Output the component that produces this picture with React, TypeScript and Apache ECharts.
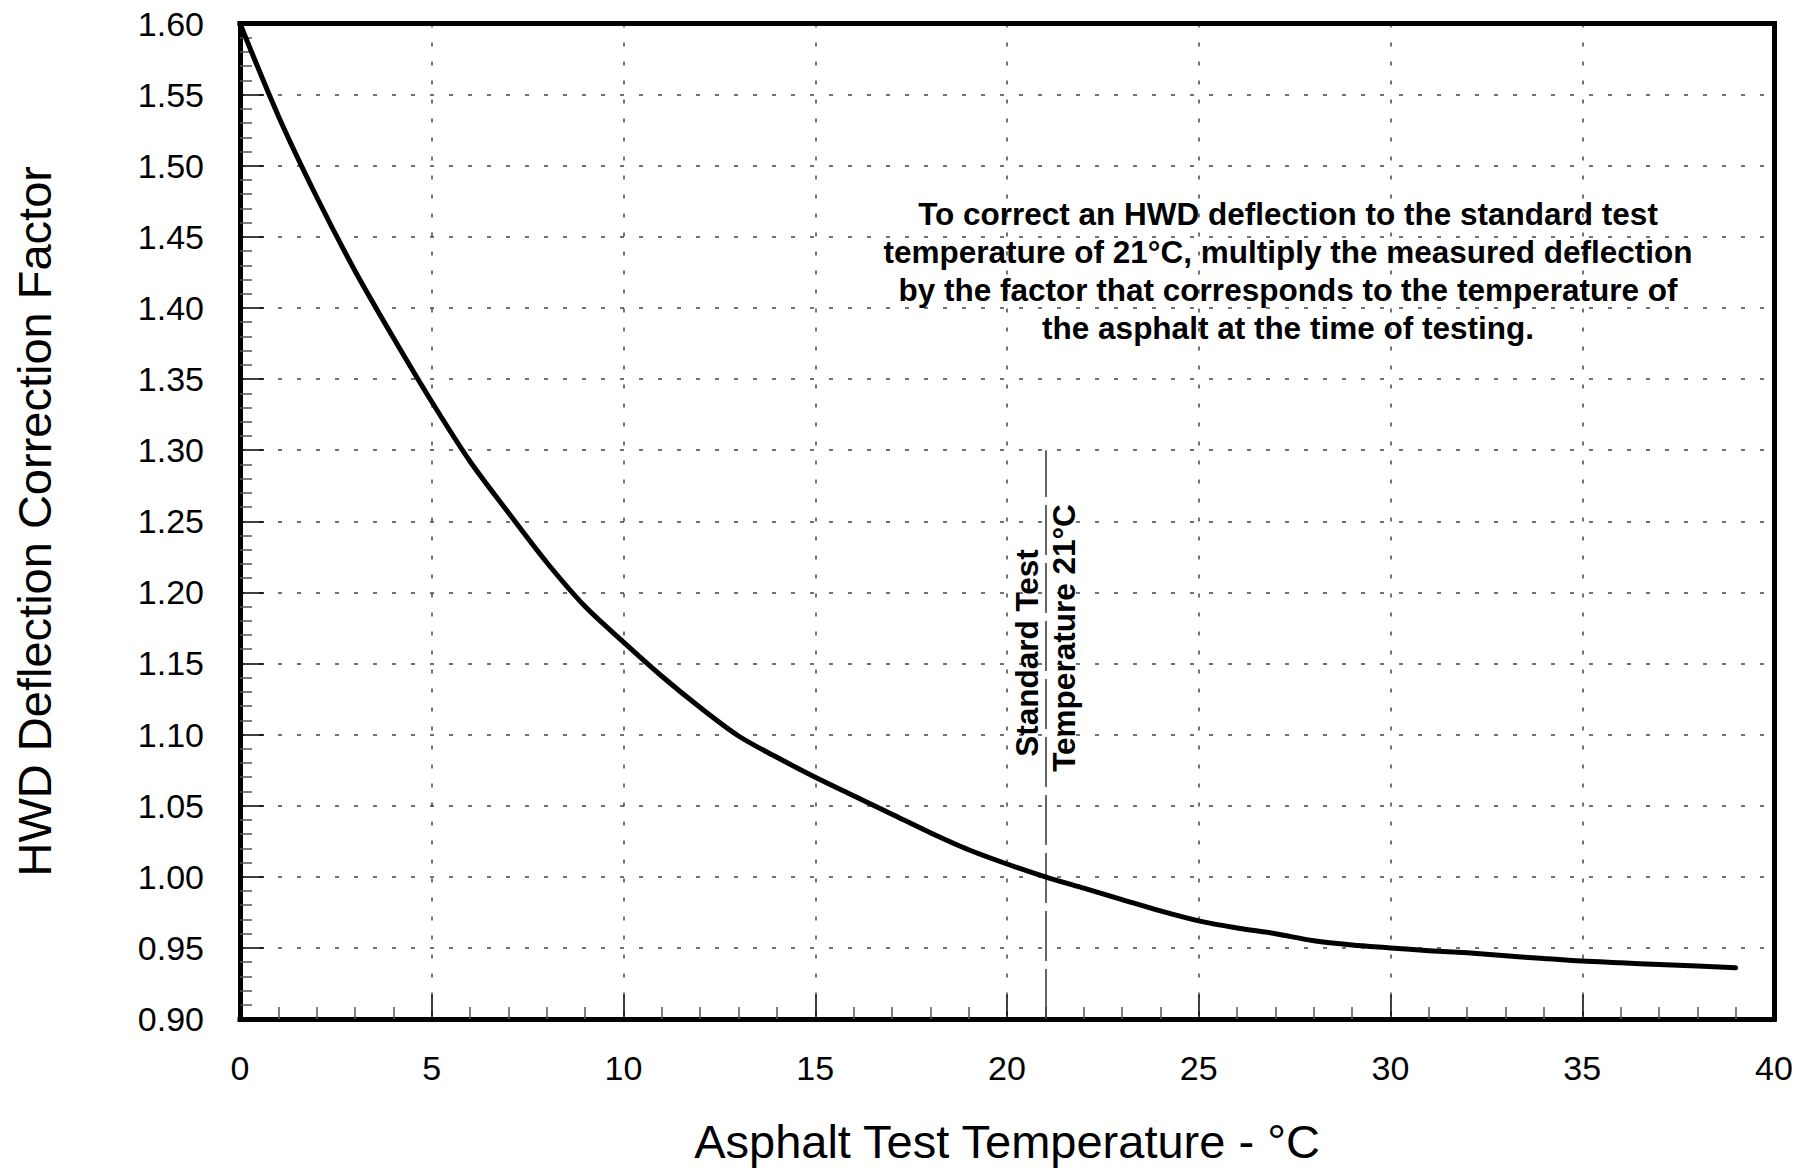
import React, { useEffect, useRef } from "react";
import * as echarts from "echarts";

const temperatures = [
  0, 1, 2, 3, 4, 5, 6, 7, 8, 9, 10, 11, 12, 13, 14, 15, 16, 17, 18, 19, 20,
  21, 22, 23, 24, 25, 26, 27, 28, 29, 30, 31, 32, 33, 34, 35, 36, 37, 38, 39,
];
const factors = [
  1.6, 1.535, 1.478, 1.426, 1.379, 1.334, 1.292, 1.256, 1.221, 1.19, 1.165,
  1.141, 1.119, 1.099, 1.084, 1.07, 1.057, 1.044, 1.031, 1.019, 1.009, 1.0,
  0.992, 0.984, 0.976, 0.969, 0.964, 0.96, 0.955, 0.952, 0.95, 0.948, 0.9465,
  0.9445, 0.9425, 0.9407, 0.9395, 0.9383, 0.9372, 0.936,
];
const standardTemp = 21;
const standardLineTop = 1.3;
const xTitle = "Asphalt Test Temperature - °C";
const yTitle = "HWD Deflection Correction Factor";
const noteLines = [
  "To correct an HWD deflection to the standard test",
  "temperature of 21°C, multiply the measured deflection",
  "by the factor that corresponds to the temperature of",
  "the asphalt at the time of testing.",
];
const stdLabel1 = "Standard Test";
const stdLabel2 = "Temperature 21°C";

const FONT = "'Liberation Sans', Arial, Helvetica, sans-serif";

export default function App() {
  const ref = useRef<HTMLDivElement>(null);
  useEffect(() => {
    if (!ref.current) return;
    const chart = echarts.init(ref.current, null, { renderer: "svg" });
    const frame = { show: true, onZero: false, lineStyle: { color: "#000", width: 5, cap: "square" } };
    const split = {
      show: true,
      showMinLine: false,
      showMaxLine: false,
      lineStyle: { color: "#444", width: 1.5, type: [4, 15] },
    };
    const bold = {
      fontSize: 31.5,
      fontWeight: "bold",
      fontFamily: FONT,
      fill: "#000",
      align: "center",
      verticalAlign: "middle",
    };
    chart.setOption({
      animation: false,
      backgroundColor: "#fff",
      textStyle: { fontFamily: FONT },
      grid: { left: 240, right: 42, top: 23.5, bottom: 144.5, containLabel: false },
      xAxis: [
        {
          type: "value",
          min: 0,
          max: 40,
          interval: 5,
          position: "bottom",
          axisLine: frame,
          axisTick: { show: true, inside: true, length: 24, lineStyle: { color: "#000", width: 1.5 } },
          minorTick: { show: true, splitNumber: 5, length: 12, lineStyle: { color: "#555", width: 1.5 } },
          splitLine: split,
          axisLabel: { fontSize: 34, color: "#000", margin: 32, fontFamily: FONT },
          name: xTitle,
          nameLocation: "middle",
          nameGap: 99,
          nameTextStyle: { fontSize: 47, color: "#000", fontFamily: FONT },
        },
        {
          type: "value",
          min: 0,
          max: 40,
          position: "top",
          axisLine: frame,
          axisTick: { show: false },
          axisLabel: { show: false },
          splitLine: { show: false },
        },
      ],
      yAxis: [
        {
          type: "value",
          min: 0.9,
          max: 1.6,
          interval: 0.05,
          position: "left",
          axisLine: frame,
          axisTick: { show: true, inside: true, length: 24, lineStyle: { color: "#000", width: 1.5 } },
          minorTick: { show: true, splitNumber: 5, length: 12, lineStyle: { color: "#555", width: 1.5 } },
          splitLine: split,
          axisLabel: {
            fontSize: 34,
            color: "#000",
            margin: 36,
            fontFamily: FONT,
            formatter: (v: number) => v.toFixed(2),
          },
          name: yTitle,
          nameLocation: "middle",
          nameGap: 182,
          nameTextStyle: { fontSize: 47, color: "#000", fontFamily: FONT },
        },
        {
          type: "value",
          min: 0.9,
          max: 1.6,
          position: "right",
          axisLine: frame,
          axisTick: { show: false },
          axisLabel: { show: false },
          splitLine: { show: false },
        },
      ],
      series: [
        {
          type: "line",
          data: temperatures.map((t, i) => [t, factors[i]]),
          showSymbol: false,
          smooth: 0.3,
          lineStyle: { color: "#000", width: 5, cap: "round", join: "round" },
          z: 5,
          markLine: {
            silent: true,
            symbol: ["none", "none"],
            label: { show: false },
            lineStyle: { color: "#333", width: 1.5, type: [50, 8] },
            data: [[{ coord: [standardTemp, 0.9] }, { coord: [standardTemp, standardLineTop] }]],
          },
        },
      ],
      graphic: [
        {
          type: "text",
          x: 1288,
          y: 271,
          style: { ...bold, text: noteLines.join("\n"), lineHeight: 38 },
          z: 10,
        },
        {
          type: "text",
          x: 1027,
          y: 653,
          rotation: Math.PI / 2,
          style: { ...bold, text: stdLabel1 },
          z: 10,
        },
        {
          type: "text",
          x: 1064,
          y: 638,
          rotation: Math.PI / 2,
          style: { ...bold, text: stdLabel2 },
          z: 10,
        },
      ],
    });
    return () => chart.dispose();
  }, []);
  return (
    <div
      ref={ref}
      style={{ position: "fixed", left: 0, top: 0, width: "1816px", height: "1170px", background: "#fff" }}
    />
  );
}
